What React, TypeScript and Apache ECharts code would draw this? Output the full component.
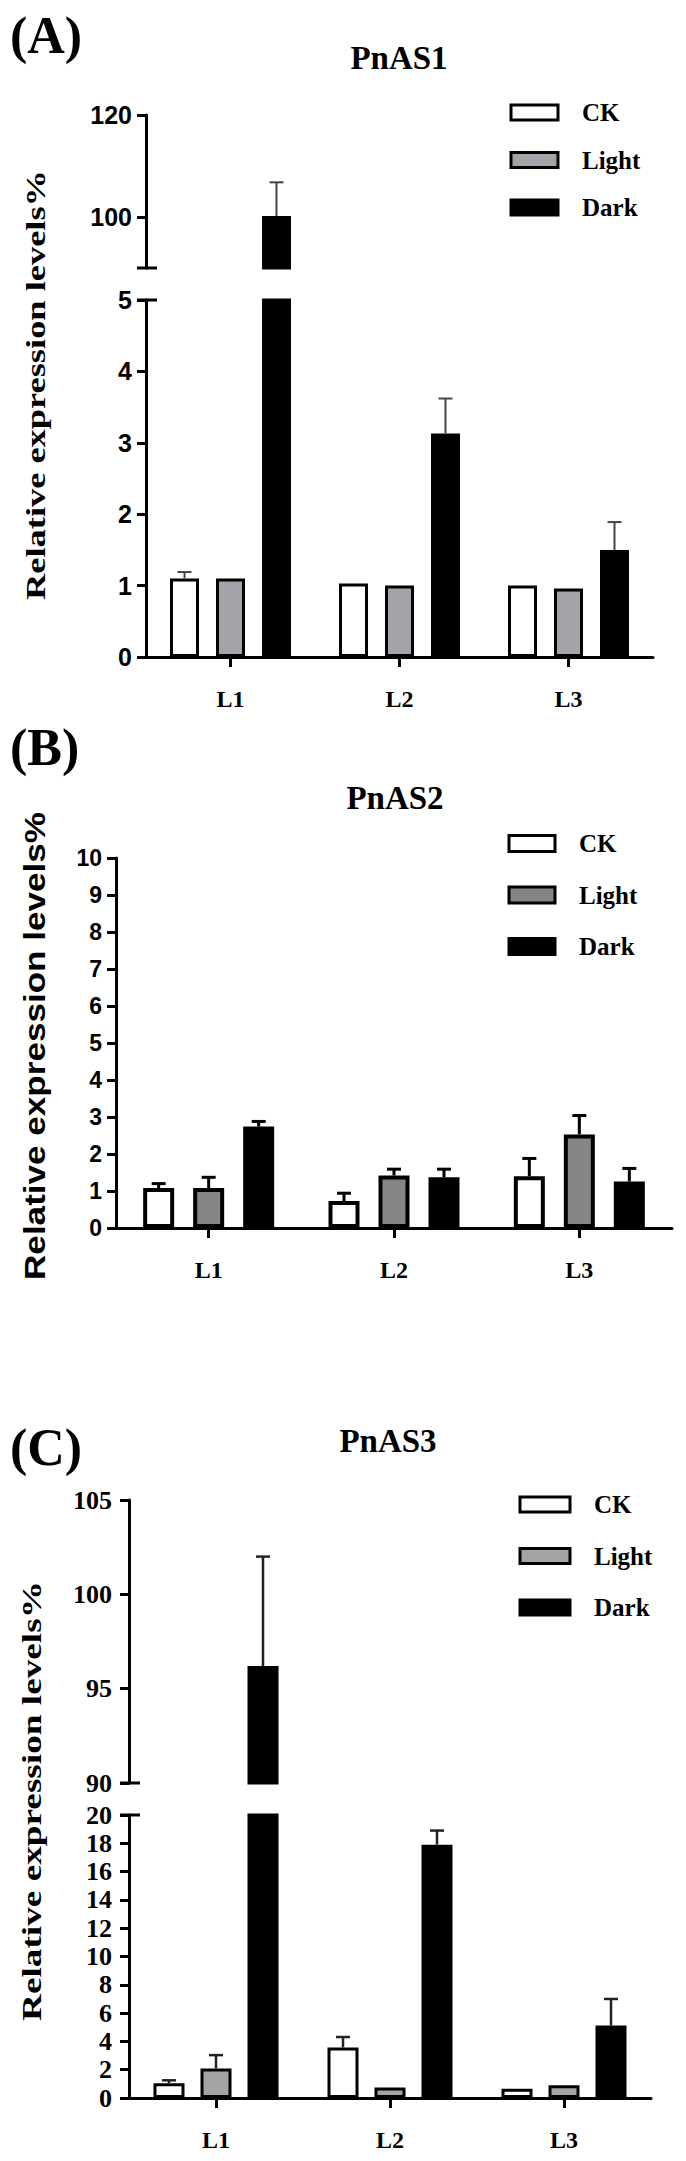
import React, { useEffect, useRef } from "react";
import * as echarts from "echarts";

const categories = ["L1", "L2", "L3"];
const groups = ["CK", "Light", "Dark"];

// PnAS1 (A)
const pnas1CK = [1.1, 1.03, 1.0];
const pnas1Light = [1.1, 1.0, 0.96];
const pnas1Dark = [100.2, 3.13, 1.5];
const pnas1CKSd = [0.09, 0, 0];
const pnas1LightSd = [0, 0, 0];
const pnas1DarkSd = [6.6, 0.49, 0.39];
const pnas1UpperRange = [90, 120];
const pnas1UpperTicks = [100, 120];
const pnas1LowerRange = [0, 5];

// PnAS2 (B)
const pnas2CK = [1.08, 0.73, 1.4];
const pnas2Light = [1.08, 1.42, 2.53];
const pnas2Dark = [2.74, 1.37, 1.26];
const pnas2CKSd = [0.12, 0.21, 0.48];
const pnas2LightSd = [0.29, 0.17, 0.51];
const pnas2DarkSd = [0.14, 0.22, 0.35];
const pnas2Range = [0, 10];

// PnAS3 (C)
const pnas3CK = [1.05, 3.57, 0.65];
const pnas3Light = [2.08, 0.75, 0.9];
const pnas3Dark = [96.2, 17.9, 5.12];
const pnas3CKSd = [0.2, 0.74, 0];
const pnas3LightSd = [0.95, 0, 0];
const pnas3DarkSd = [5.8, 1.0, 1.88];
const pnas3UpperRange = [90, 105];
const pnas3LowerRange = [0, 20];

const SERIF = '"Liberation Serif", "Times New Roman", serif';
const SANS = '"Liberation Sans", Arial, sans-serif';

const panels: any[] = [
  {
    letter: "(A)", letterY: 35,
    title: "PnAS1", titleX: 399, titleY: 58,
    left: 146, width: 507,
    segs: [
      { top: 115, height: 153, range: pnas1UpperRange, interval: 10, ticks: pnas1UpperTicks },
      { top: 300, height: 357, range: pnas1LowerRange, interval: 1 },
    ],
    means: [pnas1CK, pnas1Light, pnas1Dark],
    sds: [pnas1CKSd, pnas1LightSd, pnas1DarkSd],
    colors: ["#ffffff", "#a3a3a9", "#000000"],
    barW: 29, step: 46, border: 3,
    err: { color: "#444444", width: 2, cap: 14 },
    tickFont: SANS, tickSize: 25, tickMargin: 14,
    yTitle: { x: 36, y: 385, size: 28, scale: 1.3, family: SERIF },
    legend: { x: 511, y0: 112.5, gap: 47.5, textX: 582, w: 47, h: 15 },
  },
  {
    letter: "(B)", letterY: 747,
    title: "PnAS2", titleX: 395, titleY: 798,
    left: 116, width: 556,
    segs: [{ top: 858, height: 370, range: pnas2Range, interval: 1 }],
    means: [pnas2CK, pnas2Light, pnas2Dark],
    sds: [pnas2CKSd, pnas2LightSd, pnas2DarkSd],
    colors: ["#ffffff", "#858585", "#000000"],
    barW: 31, step: 50, border: 4,
    err: { color: "#000000", width: 3, cap: 14 },
    tickFont: SANS, tickSize: 23, tickMargin: 14,
    yTitle: { x: 34, y: 1046, size: 30, scale: 1.17, family: SANS },
    legend: { x: 509, y0: 843.5, gap: 51.5, textX: 579, w: 46, h: 16 },
  },
  {
    letter: "(C)", letterY: 1447,
    title: "PnAS3", titleX: 388, titleY: 1441,
    left: 129, width: 522,
    segs: [
      { top: 1500, height: 283, range: pnas3UpperRange, interval: 5 },
      { top: 1815, height: 283, range: pnas3LowerRange, interval: 2 },
    ],
    means: [pnas3CK, pnas3Light, pnas3Dark],
    sds: [pnas3CKSd, pnas3LightSd, pnas3DarkSd],
    colors: ["#ffffff", "#a4a4a4", "#000000"],
    barW: 31, step: 47, border: 3,
    err: { color: "#222222", width: 2.5, cap: 14 },
    tickFont: SERIF, tickSize: 26, tickMargin: 17,
    yTitle: { x: 32, y: 1801, size: 28, scale: 1.33, family: SERIF },
    legend: { x: 520, y0: 1504.5, gap: 51.5, textX: 594, w: 50, h: 15 },
  },
];

function text(t: string, x: number, y: number, family: string, size: number, opts: any = {}) {
  const align = opts.align || "left";
  return {
    type: "text",
    x,
    y,
    rotation: opts.rotation || 0,
    scaleX: opts.scaleX || 1,
    silent: true,
    style: {
      text: t,
      fill: "#000",
      fontFamily: family,
      fontSize: size,
      fontWeight: "bold",
      textAlign: align,
      align,
      textVerticalAlign: "middle",
      verticalAlign: "middle",
    },
  };
}

function buildOption() {
  const grid: any[] = [];
  const xAxis: any[] = [];
  const yAxis: any[] = [];
  const series: any[] = [];
  const graphic: any[] = [];
  const lineStyle = { color: "#000", width: 3 };

  panels.forEach((p) => {
    const gapPct = ((p.step - p.barW) / p.barW) * 100 + "%";
    p.segs.forEach((s: any, si: number) => {
      const idx = grid.length;
      const isBottom = si === p.segs.length - 1;
      const [min, max] = s.range;
      grid.push({
        left: p.left, top: s.top, width: p.width, height: s.height,
        containLabel: false, outerBoundsMode: "none",
      });
      xAxis.push({
        type: "category", gridIndex: idx, data: categories, show: isBottom,
        axisLine: { show: true, onZero: false, lineStyle },
        axisTick: { show: true, alignWithLabel: true, length: 10, lineStyle },
        axisLabel: {
          show: true, margin: 30, color: "#000", fontFamily: SERIF,
          fontWeight: "bold", fontSize: 24,
        },
        splitLine: { show: false },
      });
      const tickExtra = s.ticks ? { customValues: s.ticks } : {};
      yAxis.push({
        type: "value", gridIndex: idx, min, max, interval: s.interval,
        axisLine: { show: true, lineStyle },
        axisTick: { show: true, length: 9, lineStyle, ...tickExtra },
        axisLabel: {
          show: true, margin: p.tickMargin, color: "#000", fontFamily: p.tickFont,
          fontWeight: "bold", fontSize: p.tickSize, ...tickExtra,
        },
        splitLine: { show: false },
      });
      groups.forEach((g, k) => {
        series.push({
          type: "bar", name: g, xAxisIndex: idx, yAxisIndex: idx,
          data: p.means[k].map((v: number) => (v > min ? v : "-")),
          barWidth: p.barW, barGap: gapPct, clip: true, silent: true,
          itemStyle: { color: p.colors[k], borderColor: "#000", borderWidth: p.border },
        });
      });
      const errData: number[][] = [];
      groups.forEach((g, k) => {
        p.means[k].forEach((v: number, c: number) => {
          const sd = p.sds[k][c];
          if (sd > 0 && v >= min && v <= max) errData.push([c, v, v + sd, k]);
        });
      });
      const step = p.step;
      const err = p.err;
      series.push({
        type: "custom", xAxisIndex: idx, yAxisIndex: idx, z: 5, silent: true,
        data: errData, encode: { x: 0, y: [1, 2] },
        renderItem: (params: any, api: any) => {
          const c = api.value(0);
          const v = api.value(1);
          const t = api.value(2);
          const k = api.value(3);
          const p0 = api.coord([c, v]);
          const p1 = api.coord([c, t]);
          const x = p0[0] + (k - 1) * step;
          const st = { stroke: err.color, lineWidth: err.width };
          return {
            type: "group",
            children: [
              { type: "line", shape: { x1: x, y1: p0[1], x2: x, y2: p1[1] }, style: st },
              { type: "line", shape: { x1: x - err.cap / 2, y1: p1[1], x2: x + err.cap / 2, y2: p1[1] }, style: st },
            ],
          };
        },
      });
    });

    // axis break caps
    if (p.segs.length > 1) {
      const up = p.segs[0];
      const lo = p.segs[1];
      [up.top + up.height, lo.top].forEach((y) => {
        graphic.push({
          type: "line", silent: true,
          shape: { x1: p.left - 9, y1: y, x2: p.left + 11, y2: y },
          style: { stroke: "#000", lineWidth: 3 },
        });
      });
    }

    // panel letter and title
    graphic.push(text(p.letter, 10, p.letterY, SERIF, 52));
    graphic.push(text(p.title, p.titleX, p.titleY, SERIF, 33, { align: "center" }));

    // y axis title
    graphic.push(
      text("Relative expression levels%", p.yTitle.x, p.yTitle.y, p.yTitle.family, p.yTitle.size, {
        align: "center", rotation: Math.PI / 2, scaleX: p.yTitle.scale,
      })
    );

    // legend
    groups.forEach((g, k) => {
      const cy = p.legend.y0 + k * p.legend.gap;
      graphic.push({
        type: "rect", silent: true,
        shape: { x: p.legend.x, y: cy - p.legend.h / 2, width: p.legend.w, height: p.legend.h },
        style: { fill: p.colors[k], stroke: "#000", lineWidth: 3 },
      });
      graphic.push(text(g, p.legend.textX, cy, SERIF, 25));
    });
  });

  return {
    animation: false,
    backgroundColor: "#fff",
    grid,
    xAxis,
    yAxis,
    series,
    graphic,
  };
}

export default function App() {
  const ref = useRef<HTMLDivElement>(null);
  useEffect(() => {
    const chart = echarts.init(ref.current as HTMLDivElement, null, { renderer: "svg" });
    chart.setOption(buildOption() as any);
    return () => chart.dispose();
  }, []);
  return (
    <div
      ref={ref}
      style={{ position: "absolute", left: 0, top: 0, width: 686, height: 2161, background: "#fff" }}
    />
  );
}
